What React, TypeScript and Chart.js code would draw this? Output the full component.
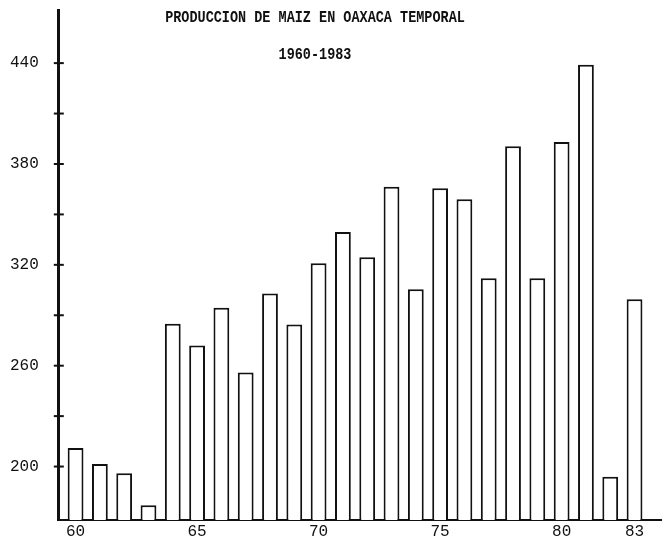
import React, { useEffect, useRef } from "react";
import { Chart, registerables } from "chart.js";

Chart.register(...registerables);

const TITLE = "PRODUCCION DE MAIZ EN OAXACA TEMPORAL";
const SUBTITLE = "1960-1983";

const years = [60, 61, 62, 63, 64, 65, 66, 67, 68, 69, 70, 71, 72, 73, 74, 75, 76, 77, 78, 79, 80, 81, 82, 83];
const production = [211, 201.5, 196, 177, 285, 272, 294.5, 256, 303, 284.5, 321, 339.5, 324.5, 366.5, 305.5, 365.5, 359, 312, 390.5, 312, 393, 439, 194, 299.5];

const xTickValues = [60, 65, 70, 75, 80, 83];
const yTickValues = [200, 230, 260, 290, 320, 350, 380, 410, 440];
const yLabeledTicks = [200, 260, 320, 380, 440];

const INK = "#111";
const MONO = "'Liberation Mono', 'DejaVu Sans Mono', monospace";

const crossTicks = {
  id: "crossTicks",
  afterDraw(chart: any) {
    const y = chart.scales.y;
    const ctx = chart.ctx;
    const x0 = chart.chartArea.left;
    ctx.save();
    ctx.strokeStyle = INK;
    ctx.lineWidth = 2;
    yTickValues.forEach((v) => {
      const py = y.getPixelForValue(v);
      ctx.beginPath();
      ctx.moveTo(x0 - 5, py);
      ctx.lineTo(x0 + 5, py);
      ctx.stroke();
    });
    ctx.restore();
  },
};

export default function App() {
  const ref = useRef<HTMLCanvasElement | null>(null);

  useEffect(() => {
    document.body.style.margin = "0";
    const canvas = ref.current;
    if (!canvas) return;
    const chart = new Chart(canvas, {
      type: "bar",
      data: {
        datasets: [
          {
            data: years.map((yr, i) => ({ x: yr, y: production[i] })),
            backgroundColor: "#ffffff",
            borderColor: INK,
            borderWidth: 2,
            borderSkipped: "start",
            categoryPercentage: 1,
            barPercentage: 0.65,
          },
        ],
      },
      options: {
        responsive: false,
        animation: false,
        layout: { padding: { left: 8, top: 10, right: 0, bottom: 0 } },
        plugins: {
          legend: { display: false },
          title: { display: false },
          tooltip: { enabled: false },
        },
        scales: {
          x: {
            type: "linear",
            offset: false,
            min: 59.31,
            max: 84.13,
            grid: { display: false, drawTicks: false },
            border: { display: true, color: INK, width: 2 },
            afterBuildTicks: (scale: any) => {
              scale.ticks = xTickValues.map((v) => ({ value: v }));
            },
            ticks: {
              color: INK,
              padding: 3.5,
              font: { family: MONO, size: 16, lineHeight: 1 },
              callback: (v: any) => String(v),
            },
          },
          y: {
            min: 168.2,
            max: 471.6,
            grid: {
              display: true,
              drawOnChartArea: false,
              drawTicks: true,
              tickLength: 18,
              tickColor: "rgba(0,0,0,0)",
            },
            border: { display: true, color: INK, width: 3 },
            afterBuildTicks: (scale: any) => {
              scale.ticks = yTickValues.map((v) => ({ value: v }));
            },
            ticks: {
              color: INK,
              padding: 2,
              font: { family: MONO, size: 16, lineHeight: 1 },
              callback: (v: any) => (yLabeledTicks.includes(Number(v)) ? String(v) : ""),
            },
          },
        },
      },
      plugins: [crossTicks],
    });
    return () => chart.destroy();
  }, []);

  const titleStyle: React.CSSProperties = {
    position: "absolute",
    left: 0,
    width: 630,
    textAlign: "center",
    fontFamily: MONO,
    fontWeight: "bold",
    fontSize: "13.5px",
    lineHeight: "16px",
    color: INK,
    whiteSpace: "nowrap",
    transform: "scaleY(1.2)",
  };

  return (
    <div style={{ position: "relative", width: 662, height: 543, background: "#fff" }}>
      <canvas ref={ref} width={662} height={543} style={{ display: "block" }} />
      <div style={{ ...titleStyle, top: 10 }}>{TITLE}</div>
      <div style={{ ...titleStyle, top: 47 }}>{SUBTITLE}</div>
    </div>
  );
}
